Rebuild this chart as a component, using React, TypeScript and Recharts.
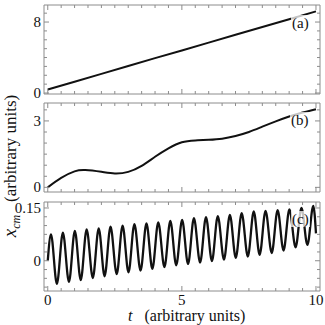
import { LineChart, Line, XAxis, YAxis } from 'recharts';

const FRAME = '#8c8c8c';
const INK = '#111111';
const SERIF = "'Liberation Serif', 'Times New Roman', serif";

// shared time axis
const xDomain = [-0.14, 10.15];
const xMajor = [0, 5, 10];
const xTicks = [0, 0.5, 1, 1.5, 2, 2.5, 3, 3.5, 4, 4.5, 5, 5.5, 6, 6.5, 7, 7.5, 8, 8.5, 9, 9.5, 10];

// panel (a)
const tA = [0, 1, 2, 3, 4, 5, 6, 7, 8, 9, 10];
const valA = [0.4, 1.28, 2.16, 3.05, 3.93, 4.8, 5.68, 6.56, 7.44, 8.32, 9.2];
const aMajor = [0, 8];
const aTicks = [0, 1, 2, 3, 4, 5, 6, 7, 8, 9];

// panel (b)
const tB = [0, 0.5, 1, 1.4, 2, 2.5, 3, 3.5, 4, 4.5, 5, 5.5, 6, 6.5, 7, 7.5, 8, 8.5, 9, 9.5, 10];
const valB = [0, 0.43, 0.72, 0.78, 0.7, 0.63, 0.7, 0.97, 1.38, 1.76, 2.04, 2.12, 2.15, 2.2, 2.32, 2.5, 2.74, 2.98, 3.2, 3.38, 3.53];
const bMajor = [0, 3];
const bTicks = [0, 0.5, 1, 1.5, 2, 2.5, 3, 3.5];

// panel (c): start, then alternating crests and troughs, then end
const tC = [
  0, 0.12, 0.34, 0.565, 0.79, 1.01, 1.23, 1.45, 1.68, 1.9, 2.12, 2.34, 2.57, 2.79, 3.01, 3.23,
  3.46, 3.68, 3.9, 4.12, 4.35, 4.57, 4.79, 5.01, 5.23, 5.45, 5.68, 5.9, 6.12, 6.34, 6.57, 6.79,
  7.01, 7.23, 7.46, 7.68, 7.9, 8.12, 8.35, 8.57, 8.79, 9.01, 9.24, 9.46, 9.68, 9.9, 10,
];
const valC = [
  0, 0.075, -0.066, 0.08, -0.06, 0.085, -0.055, 0.089, -0.049, 0.092, -0.044, 0.097, -0.038,
  0.1, -0.033, 0.104, -0.028, 0.106, -0.023, 0.109, -0.018, 0.113, -0.013, 0.116, -0.009,
  0.121, -0.005, 0.124, -0.001, 0.127, 0.003, 0.13, 0.008, 0.135, 0.012, 0.14, 0.017, 0.142,
  0.022, 0.144, 0.029, 0.146, 0.038, 0.15, 0.045, 0.156, 0.078,
];
const cMajor = [0, 0.15];
const cTicks = [-0.075, -0.05, -0.025, 0, 0.025, 0.05, 0.075, 0.1, 0.125, 0.15];

const dataA = tA.map((t, i) => ({ t, v: valA[i] }));
const dataB = tB.map((t, i) => ({ t, v: valB[i] }));
const dataC = tC.map((t, i) => ({ t, v: valC[i] }));

const W = 325;

function Panel({ data, frameTop, frameBottom, yDomain, yTicks, yMajor, curve, xLabels, tag, lineWidth }: any) {
  // chart box is taller than the frame so the tick labels have room
  const top = frameTop - 10;
  const height = frameBottom - top + (xLabels ? 32 : 12);
  const bottomTick = (p: any) => {
    const v = p.payload.value;
    const major = xMajor.includes(v);
    return (
      <g>
        <line x1={p.x} x2={p.x} y1={p.y} y2={p.y - (major ? 5 : 3)} stroke={FRAME} />
        {xLabels && major && (
          <text x={p.x} y={p.y + 14} textAnchor="middle" fontSize={15} fontFamily={SERIF} fill={INK}>
            {v}
          </text>
        )}
      </g>
    );
  };
  const topTick = (p: any) => {
    const major = xMajor.includes(p.payload.value);
    return <line x1={p.x} x2={p.x} y1={p.y} y2={p.y + (major ? 5 : 3)} stroke={FRAME} />;
  };
  const leftTick = (p: any) => {
    const v = p.payload.value;
    const major = yMajor.includes(v);
    return (
      <g>
        <line x1={p.x} x2={p.x + (major ? 5 : 3)} y1={p.y} y2={p.y} stroke={FRAME} />
        {major && (
          <text x={p.x - 3} y={p.y + 5} textAnchor="end" fontSize={15} fontFamily={SERIF} fill={INK}>
            {v}
          </text>
        )}
      </g>
    );
  };
  const rightTick = (p: any) => {
    const major = yMajor.includes(p.payload.value);
    return <line x1={p.x} x2={p.x - (major ? 5 : 3)} y1={p.y} y2={p.y} stroke={FRAME} />;
  };
  const axisLine = { stroke: FRAME, strokeWidth: 1 };
  return (
    <div style={{ position: 'absolute', left: 0, top }}>
      <LineChart
        width={W}
        height={height}
        data={data}
        margin={{ top: 9, right: 4, bottom: xLabels ? 0 : 11, left: 0 }}
      >
        <XAxis
          xAxisId="b"
          dataKey="t"
          type="number"
          domain={xDomain}
          allowDataOverflow
          ticks={xTicks}
          interval={0}
          tick={bottomTick}
          tickLine={false}
          tickSize={0}
          tickMargin={0}
          axisLine={axisLine}
          height={xLabels ? 32 : 1}
        />
        <XAxis
          xAxisId="t"
          orientation="top"
          dataKey="t"
          type="number"
          domain={xDomain}
          allowDataOverflow
          ticks={xTicks}
          interval={0}
          tick={topTick}
          tickLine={false}
          tickSize={0}
          tickMargin={0}
          axisLine={axisLine}
          height={1}
        />
        <YAxis
          yAxisId="l"
          type="number"
          domain={yDomain}
          allowDataOverflow
          ticks={yTicks}
          interval={0}
          tick={leftTick}
          tickLine={false}
          tickSize={0}
          tickMargin={0}
          axisLine={axisLine}
          width={44}
        />
        <YAxis
          yAxisId="r"
          orientation="right"
          type="number"
          domain={yDomain}
          allowDataOverflow
          ticks={yTicks}
          interval={0}
          tick={rightTick}
          tickLine={false}
          tickSize={0}
          tickMargin={0}
          axisLine={axisLine}
          width={1}
        />
        <Line
          xAxisId="b"
          yAxisId="l"
          type={curve}
          dataKey="v"
          stroke={INK}
          strokeWidth={lineWidth}
          strokeLinejoin="round"
          dot={false}
          isAnimationActive={false}
        />
      </LineChart>
      <div
        style={{
          position: 'absolute',
          left: tag.x,
          top: tag.y + 10,
          fontFamily: SERIF,
          fontSize: 15,
          lineHeight: '16px',
          color: INK,
          background: 'rgba(255,255,255,0.75)',
          padding: '0 1px',
        }}
      >
        {tag.text}
      </div>
    </div>
  );
}

export default function App() {
  return (
    <div style={{ position: 'absolute', left: 0, top: 0, width: W, height: 325, background: '#fff', overflow: 'hidden' }}>
      <Panel data={dataA} frameTop={5} frameBottom={94} yDomain={[-0.11, 9.92]} yTicks={aTicks} yMajor={aMajor} curve="linear" lineWidth={2} tag={{ text: '(a)', x: 291, y: 10 }} />
      <Panel data={dataB} frameTop={103} frameBottom={192} yDomain={[-0.21, 3.81]} yTicks={bTicks} yMajor={bMajor} curve="natural" lineWidth={2} tag={{ text: '(b)', x: 290, y: 9 }} />
      <Panel data={dataC} frameTop={202} frameBottom={291} yDomain={[-0.086, 0.167]} yTicks={cTicks} yMajor={cMajor} curve="monotone" lineWidth={2.3} xLabels tag={{ text: '(c)', x: 291, y: 9 }} />
      <div
        style={{
          position: 'absolute',
          left: 128,
          top: 308,
          fontFamily: SERIF,
          fontSize: 16,
          lineHeight: '16px',
          color: INK,
          whiteSpace: 'nowrap',
        }}
      >
        <i>t</i>&nbsp;&nbsp;&nbsp;(arbitrary units)
      </div>
      <div
        style={{
          position: 'absolute',
          left: 11,
          top: 166,
          transform: 'translate(-50%, -50%) rotate(-90deg)',
          fontFamily: SERIF,
          fontSize: 17,
          lineHeight: '20px',
          color: INK,
          whiteSpace: 'nowrap',
        }}
      >
        <i style={{ fontSize: 19 }}>x</i>
        <sub style={{ fontSize: 12, lineHeight: '12px' }}>
          <i>cm</i>
        </sub>
        &nbsp;&nbsp;&nbsp;(arbitrary units)
      </div>
    </div>
  );
}
